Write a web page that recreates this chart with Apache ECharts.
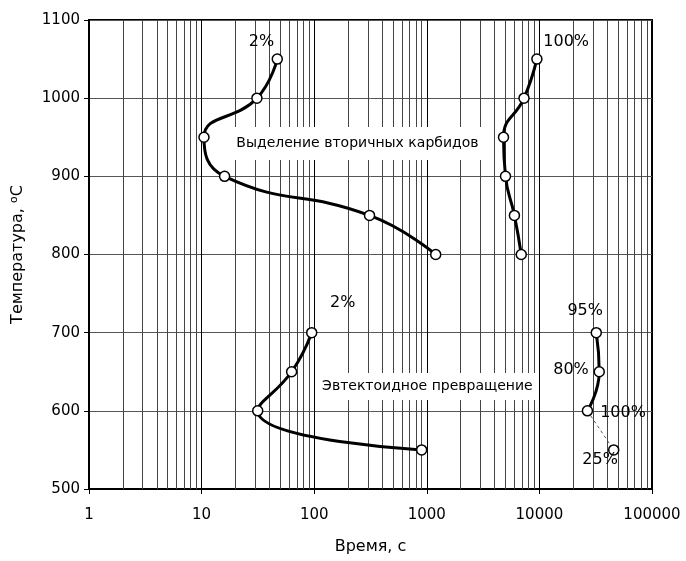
<!DOCTYPE html>
<html>
<head>
<meta charset="utf-8">
<script src="https://cdn.jsdelivr.net/npm/echarts@6/dist/echarts.min.js"></script>
<style>html,body{margin:0;padding:0;background:#fff}#c{width:686px;height:561px}</style>
</head>
<body>
<div id="c"></div>
<script>
// Carbide precipitation start (2%)
const carbStart = [[47, 1050], [31, 1000], [10.5, 950], [16, 900], [310, 850], [1200, 800]];
// Carbide precipitation end (100%)
const carbEnd = [[9500, 1050], [7300, 1000], [4800, 950], [5000, 900], [6000, 850], [6900, 800]];
// Eutectoid start (2%)
const eutStart = [[95, 700], [63, 650], [31.5, 600], [900, 550]];
// Eutectoid progress (95%, 80%, 100%)
const eutEnd = [[32000, 700], [34000, 650], [26700, 600]];
// Dashed branch to 25%
const eutDash = [[26700, 600], [45700, 550]];
// Text annotations
const annotTexts = ['2%', '100%', '2%', '95%', '80%', '100%', '25%'];
const annotPos = [[34, 1072], [17300, 1072], [179, 738], [25500, 728], [19100, 652], [55300, 597], [34600, 537]];
const boxTexts = ['Выделение вторичных карбидов', 'Эвтектоидное превращение'];
const boxPos = [[242, 942], [1012, 631]];
const xTicks = [1, 10, 100, 1000, 10000, 100000];
const yTicks = [500, 600, 700, 800, 900, 1000, 1100];

const FONT = "'DejaVu Sans', sans-serif";
const boxSizes = [[250, 33], [220, 27]];
const minorX = [];
for (let k = 0; k < 5; k++) for (let m = 2; m <= 9; m++) minorX.push(m * Math.pow(10, k));

const lineSeries = (data) => ({
  type: 'line', data, smooth: 0.5, z: 5,
  symbol: 'circle', symbolSize: 10,
  itemStyle: { color: '#fff', borderColor: '#000', borderWidth: 1.5 },
  lineStyle: { color: '#000', width: 3 }
});

const chart = echarts.init(document.getElementById('c'), null, { renderer: 'canvas' });
chart.setOption({
  animation: false,
  backgroundColor: '#fff',
  textStyle: { fontFamily: FONT },
  grid: { left: 89, right: 34, top: 20, bottom: 72, show: true, borderColor: '#000', borderWidth: 2, backgroundColor: 'transparent' },
  xAxis: {
    type: 'log', logBase: 10, min: xTicks[0], max: xTicks[xTicks.length - 1],
    name: 'Время, с', nameLocation: 'middle', nameGap: 50,
    nameTextStyle: { fontSize: 16, color: '#000', fontFamily: FONT },
    axisLine: { show: true, onZero: false, lineStyle: { color: '#000', width: 2 } },
    axisTick: { show: true, length: 5, lineStyle: { color: '#000', width: 1 } },
    axisLabel: { fontSize: 15, color: '#000', margin: 19, fontFamily: FONT, formatter: v => String(Math.round(v)) },
    splitLine: { show: true, lineStyle: { color: '#000', width: 1 } }
  },
  yAxis: {
    type: 'value', min: yTicks[0], max: yTicks[yTicks.length - 1], interval: 100,
    name: 'Температура, {sup|о}С', nameLocation: 'middle', nameGap: 62,
    nameTextStyle: { fontSize: 16, color: '#000', fontFamily: FONT, rich: { sup: { fontSize: 11, verticalAlign: 'top', padding: [0, 0, 7, 0], fontFamily: FONT } } },
    axisLine: { show: true, lineStyle: { color: '#000', width: 2 } },
    axisTick: { show: true, length: 5, lineStyle: { color: '#000', width: 1 } },
    axisLabel: { fontSize: 15, color: '#000', margin: 9, fontFamily: FONT, formatter: v => String(v) },
    splitLine: { show: true, lineStyle: { color: '#555', width: 1 } }
  },
  series: [
    {
      type: 'line', data: [], z: 1, silent: true,
      markLine: {
        z: 1, silent: true, symbol: 'none', animation: false,
        label: { show: false },
        lineStyle: { color: '#444', width: 1, type: 'solid' },
        data: minorX.map(v => ({ xAxis: v }))
      }
    },
    {
      type: 'custom', z: 3, silent: true,
      data: boxPos.map((p, i) => [p[0], p[1], i]),
      renderItem: (params, api) => {
        const i = api.value(2);
        const c = api.coord([api.value(0), api.value(1)]);
        const w = boxSizes[i][0], h = boxSizes[i][1];
        return {
          type: 'group',
          children: [
            { type: 'rect', shape: { x: c[0] - w / 2, y: c[1] - h / 2, width: w, height: h }, style: { fill: '#fff' } },
            { type: 'text', x: c[0], y: c[1], style: { text: boxTexts[i], align: 'center', verticalAlign: 'middle', fill: '#000', font: "14px 'DejaVu Sans', sans-serif" } }
          ]
        };
      }
    },
    {
      type: 'line', data: eutDash, z: 4, symbol: 'none',
      lineStyle: { color: '#555', width: 1, type: [3, 3] }
    },
    lineSeries(carbStart),
    lineSeries(carbEnd),
    lineSeries(eutStart),
    lineSeries(eutEnd),
    {
      type: 'scatter', data: [eutDash[1]], z: 6, symbol: 'circle', symbolSize: 10,
      itemStyle: { color: '#fff', borderColor: '#000', borderWidth: 1.5, opacity: 1 }
    },
    {
      type: 'custom', z: 7, silent: true,
      data: annotPos.map((p, i) => [p[0], p[1], i]),
      renderItem: (params, api) => {
        const i = api.value(2);
        const c = api.coord([api.value(0), api.value(1)]);
        return { type: 'text', x: c[0], y: c[1], style: { text: annotTexts[i], align: 'center', verticalAlign: 'middle', fill: '#000', font: "16px 'DejaVu Sans', sans-serif" } };
      }
    }
  ]
});
</script>
</body>
</html>
